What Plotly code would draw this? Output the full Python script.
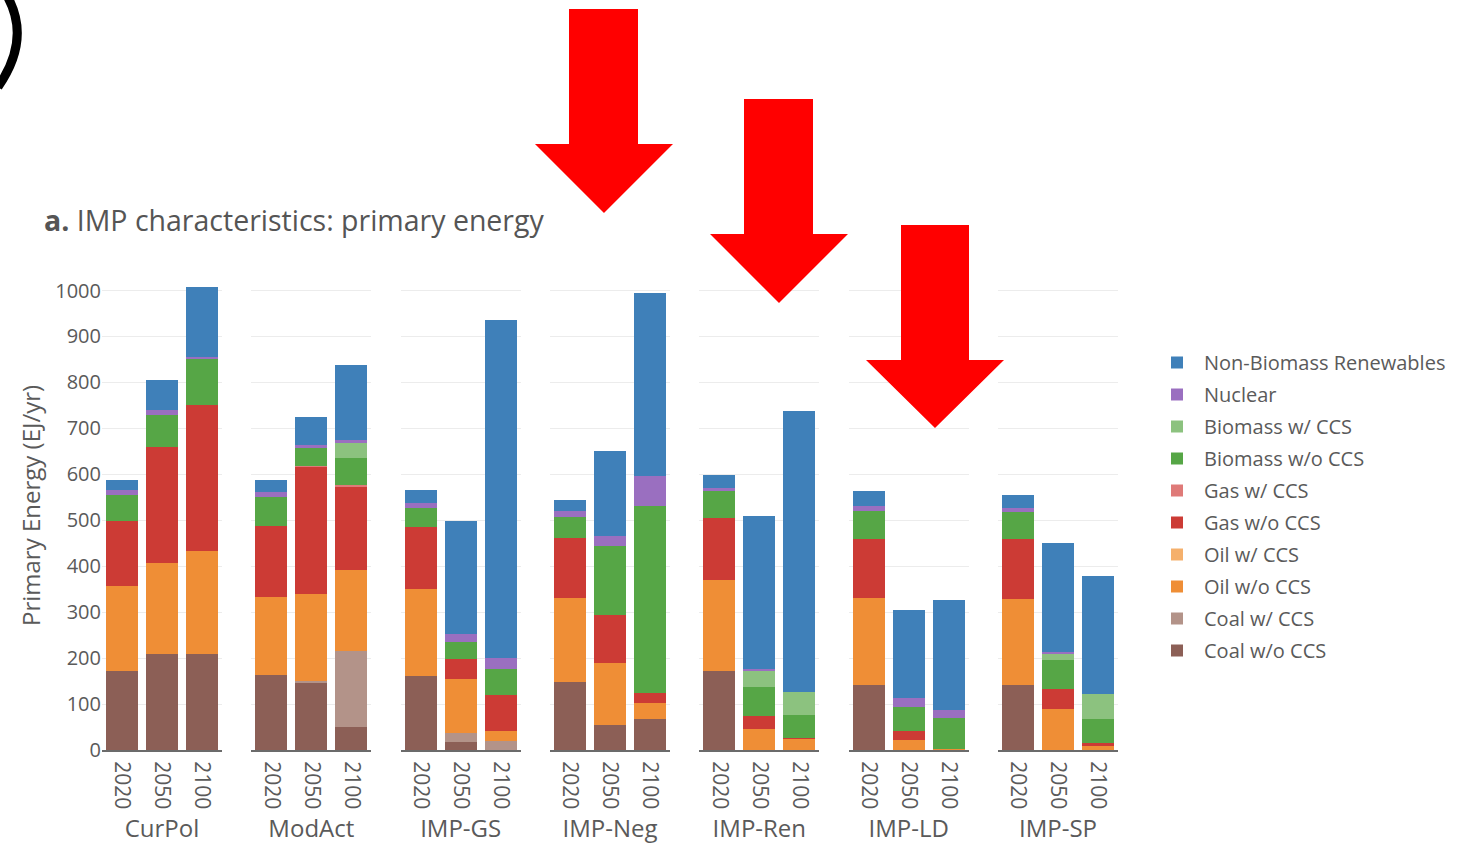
import plotly.graph_objects as go
from plotly.subplots import make_subplots

# ---------------- data ----------------
scenarios = ["CurPol", "ModAct", "IMP-GS", "IMP-Neg", "IMP-Ren", "IMP-LD", "IMP-SP"]
years = ["2020", "2050", "2100"]

# values per scenario (2020, 2050, 2100), EJ/yr
coal_wo_ccs = [171, 209, 209, 164, 147, 51, 160, 18, 0, 149, 54, 68, 173, 0, 0, 142, 0, 0, 142, 0, 0]
coal_w_ccs = [0, 0, 0, 0, 4, 165, 0, 20, 20, 0, 0, 0, 0, 0, 0, 0, 0, 0, 0, 0, 0]
oil_wo_ccs = [186, 199, 225, 170, 189, 176, 190, 116, 22, 181, 136, 34, 197, 45, 25, 188, 22, 2, 186, 90, 8]
oil_w_ccs = [0, 0, 0, 0, 0, 0, 0, 0, 0, 0, 0, 0, 0, 0, 0, 0, 0, 0, 0, 0, 0]
gas_wo_ccs = [141, 251, 317, 154, 276, 180, 135, 44, 77, 131, 103, 23, 134, 29, 2, 130, 19, 0, 131, 42, 7]
gas_w_ccs = [0, 0, 0, 0, 2, 5, 0, 0, 0, 0, 0, 0, 0, 0, 0, 0, 0, 0, 0, 0, 0]
biomass_wo_ccs = [57, 69, 102, 62, 39, 58, 42, 36, 57, 47, 151, 407, 59, 64, 49, 61, 53, 68, 60, 64, 53]
biomass_w_ccs = [0, 0, 0, 0, 0, 33, 0, 0, 0, 0, 0, 0, 0, 35, 51, 0, 0, 0, 0, 15, 54]
nuclear = [10, 11, 3, 11, 6, 7, 10, 19, 24, 13, 22, 65, 7, 4, 0, 11, 19, 16, 8, 3, 0]
non_biomass_renewables = [23, 66, 152, 26, 61, 163, 29, 245, 735, 24, 185, 398, 29, 333, 610, 31, 191, 241, 29, 236, 256]

series_names = ["Coal w/o CCS", "Coal w/ CCS", "Oil w/o CCS", "Oil w/ CCS", "Gas w/o CCS",
                "Gas w/ CCS", "Biomass w/o CCS", "Biomass w/ CCS", "Nuclear", "Non-Biomass Renewables"]
series_values = [coal_wo_ccs, coal_w_ccs, oil_wo_ccs, oil_w_ccs, gas_wo_ccs,
                 gas_w_ccs, biomass_wo_ccs, biomass_w_ccs, nuclear, non_biomass_renewables]
series_colors = ["#8c5f56", "#b39389", "#ef8e36", "#f5b06c", "#cc3b35",
                 "#df7a78", "#56a646", "#8cc27f", "#9a6fc0", "#3f80b9"]

y_ticks = [0, 100, 200, 300, 400, 500, 600, 700, 800, 900, 1000]

# ---------------- layout geometry ----------------
W, H = 1466, 845
L, R, T, B = 102, 348, 285, 95
PW, PH = W - L - R, H - T - B


def px(x):
    return (x - L) / PW


def py(y):
    return (H - B - y) / PH


FONT = "Open Sans"
GREY = "#5a5a5a"

fig = make_subplots(rows=1, cols=7, shared_yaxes=True, horizontal_spacing=0.02887)

n_series = len(series_names)
for si, (name, vals, color) in enumerate(zip(series_names, series_values, series_colors)):
    for ci, scen in enumerate(scenarios):
        fig.add_trace(
            go.Bar(
                x=years,
                y=vals[ci * 3:ci * 3 + 3],
                name=name,
                marker=dict(color=color, line=dict(width=0)),
                legendgroup=name,
                legendrank=n_series - si,
                showlegend=(ci == 0),
                hovertemplate=scen + " %{x}<br>" + name + ": %{y} EJ/yr<extra></extra>",
            ),
            row=1, col=ci + 1,
        )

for ci, scen in enumerate(scenarios):
    fig.update_xaxes(
        row=1, col=ci + 1,
        type="category",
        tickangle=90,
        showline=True, linecolor="#6b6b6b", linewidth=2,
        showgrid=False, ticks="",
        ticklabelstandoff=5,
        tickfont=dict(family=FONT, size=21, color=GREY),
        title=dict(text=scen, font=dict(family=FONT, size=24, color=GREY), standoff=12),
    )
    fig.update_yaxes(
        row=1, col=ci + 1,
        range=[0, 1012],
        tickvals=y_ticks,
        showgrid=True, gridcolor="#ececec", gridwidth=1,
        zeroline=False, showline=False, ticks="",
        tickfont=dict(family=FONT, size=20, color=GREY),
    )

annotations = [
    dict(text="<b>a.</b> IMP characteristics: primary energy", x=px(42), y=py(220),
         xref="paper", yref="paper", xanchor="left", yanchor="middle", showarrow=False,
         font=dict(family=FONT, size=28.5, color="#555555")),
    dict(text="Primary Energy (EJ/yr)", x=px(30), y=py(506), textangle=-90,
         xref="paper", yref="paper", xanchor="center", yanchor="middle", showarrow=False,
         font=dict(family=FONT, size=24, color=GREY)),
]


def arrow_path(x0, x1, top, base, hx0, hx1, tipx, tipy):
    pts = [(x0, top), (x1, top), (x1, base), (hx1, base), (tipx, tipy), (hx0, base), (x0, base)]
    return "M " + " L ".join(f"{px(a):.5f},{py(b):.5f}" for a, b in pts) + " Z"


shapes = []
for spec in [(569, 638, 9, 144, 535, 673, 604, 213),
             (744, 813, 99, 234, 710, 848, 779, 303),
             (901, 969, 225, 360, 866, 1004, 935, 428)]:
    shapes.append(dict(type="path", path=arrow_path(*spec), xref="paper", yref="paper",
                       fillcolor="#ff0000", line=dict(width=0), layer="above"))

# partial black parenthesis in the top-left corner
shapes.append(dict(type="path", xref="paper", yref="paper", layer="above",
                   path=f"M {px(6):.5f},{py(-6):.5f} Q {px(32):.5f},{py(38):.5f} {px(-2):.5f},{py(87):.5f}",
                   line=dict(color="black", width=9)))

fig.update_layout(
    width=W, height=H,
    margin=dict(l=L, r=R, t=T, b=B, autoexpand=False),
    barmode="stack",
    bargap=0.2,
    template="plotly_white",
    paper_bgcolor="white",
    plot_bgcolor="white",
    font=dict(family=FONT, color=GREY),
    legend=dict(
        traceorder="grouped",
        tracegroupgap=3,
        itemwidth=44,
        x=px(1150), y=py(343), xanchor="left", yanchor="top",
        font=dict(family=FONT, size=20, color=GREY),
        bgcolor="rgba(0,0,0,0)",
    ),
    annotations=annotations,
    shapes=shapes,
)

fig.write_html("out.html")
